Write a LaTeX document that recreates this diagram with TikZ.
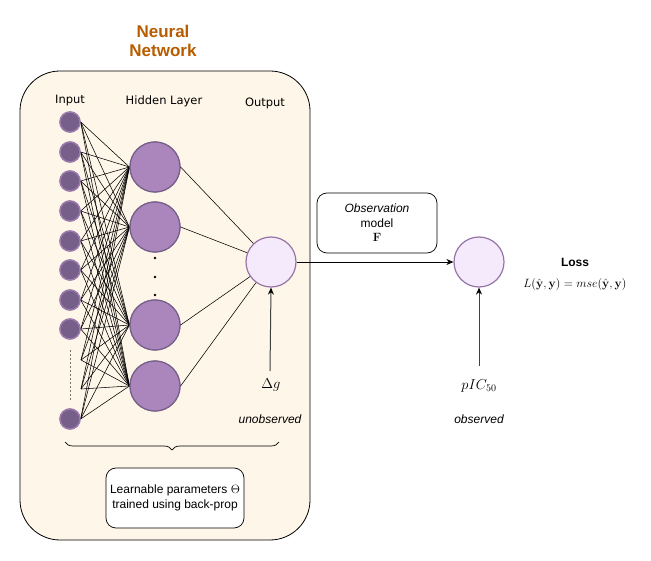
\documentclass[tikz,border=0pt]{standalone}
\usepackage[no-math]{fontspec}
\setmainfont{Liberation Sans}
\newfontfamily\verd{DejaVu Sans}
\usepackage{amsmath}
\usetikzlibrary{arrows.meta,decorations.pathreplacing,calc}
\definecolor{nnorange}{HTML}{B85C00}
\definecolor{nnbg}{RGB}{254,246,232}
\definecolor{inpfill}{RGB}{118,96,138}
\definecolor{inpdraw}{RGB}{155,122,172}
\definecolor{hidfill}{RGB}{171,134,189}
\definecolor{hiddraw}{RGB}{118,96,138}
\definecolor{outfill}{RGB}{245,234,252}
\definecolor{outdraw}{RGB}{150,115,166}
\begin{document}
\begin{tikzpicture}[x=1pt,y=-1pt,
  inp/.style={circle,fill=inpfill,draw=inpdraw,line width=1.4pt,minimum size=20pt,inner sep=0pt},
  hid/.style={circle,fill=hidfill,draw=hiddraw,line width=1.2pt,minimum size=50pt,inner sep=0pt},
  outn/.style={circle,fill=outfill,draw=outdraw,line width=1.2pt,minimum size=50pt,inner sep=0pt},
  lbl/.style={font=\verd\fontsize{11.5}{13}\selectfont,inner sep=0pt},
  txt/.style={font=\fontsize{12}{14.5}\selectfont,inner sep=0pt,align=center},
  conn/.style={line width=0.55pt,black},
  arr/.style={line width=1pt,black!75,-{Stealth[length=7pt,width=6pt,black]}},
  rbox/.style={draw=black,line width=0.7pt,rounded corners=10pt,fill=white}]
\useasboundingbox (0,0) rectangle (651,561);
% title
\node[font=\bfseries\fontsize{17}{19.5}\selectfont,text=nnorange,align=center] (title) at (163,41) {Neural\\Network};
% big box
\draw[fill=nnbg,line width=0.8pt,rounded corners=40pt] (20,71) rectangle (310,540);
% labels
\node[lbl] (linp) at (70,101) {Input};
\node[lbl] (lhid) at (164,101) {Hidden Layer};
\node[lbl] (lout) at (265,103) {Output};
% inputs
\foreach \i/\y in {1/122,2/152,3/181,4/211,5/241,6/270,7/300,8/329,11/419}
  \node[inp] (i\i) at (70,\y) {};
\coordinate (i9) at (81,360);
\coordinate (i10) at (81,389);
% hidden
\foreach \j/\y in {1/167,2/227,3/325,4/386}
  \node[hid] (h\j) at (155,\y) {};
% connections
\foreach \i in {1,...,8,11}
  \foreach \j in {1,...,4}
    \draw[conn] (i\i.east) -- (h\j.west);
\foreach \i in {9,10}
  \foreach \j in {1,...,4}
    \draw[conn] (i\i) -- (h\j.west);
% redraw nodes on top
\foreach \i/\y in {1/122,2/152,3/181,4/211,5/241,6/270,7/300,8/329,11/419}
  \node[inp] at (70,\y) {};
\foreach \j/\y in {1/167,2/227,3/325,4/386}
  \node[hid] at (155,\y) {};
\draw[black!55,line width=0.8pt,dash pattern=on 2pt off 2pt] (70,350) -- (70,400);
% dots
\foreach \y in {258,277,295} \fill (155,\y) circle (1.3pt);
% output
\node[outn] (out) at (271,262) {};
\foreach \j in {1,...,4}
  \draw[conn] (h\j.east) -- (out);
% delta g
\node[font=\fontsize{15}{17}\selectfont] (dg) at (271,385) {$\Delta g$};
\draw[arr] (270,371) -- (out.south);
\node[txt,font=\itshape\fontsize{12}{14}\selectfont] (unobs) at (270,419) {unobserved};
% brace
\draw[line width=0.7pt,decorate,decoration={brace,amplitude=8pt,mirror}] (65,442) -- (279,442);
% learnable
\node[rbox,txt,minimum width=138pt,minimum height=60pt] (learn) at (175,498) {Learnable parameters $\Theta$\\trained using back-prop};
% observation model
\node[rbox,txt,minimum width=120pt,minimum height=60pt] (obsm) at (377,223) {\textit{Observation}\\model\\$\mathbf{F}$};
% observed node
\node[outn] (obs) at (479,262) {};
\draw[line width=0.9pt,-{Stealth[length=7pt,width=6pt]}] (out) -- (obs);
\node[font=\fontsize{14.5}{17}\selectfont] (pic) at (479,386) {$pIC_{50}$};
\draw[arr] (479,366) -- (obs.south);
\node[txt,font=\itshape\fontsize{12}{14}\selectfont] (observed) at (479,419) {observed};
% loss
\node[txt,font=\bfseries\fontsize{12}{14}\selectfont] (loss) at (575,262) {Loss};
\node[font=\fontsize{12}{14}\selectfont,inner sep=0pt] (lform) at (575,285) {$L(\hat{\mathbf{y}},\mathbf{y})=mse(\hat{\mathbf{y}},\mathbf{y})$};
\end{tikzpicture}
\end{document}
